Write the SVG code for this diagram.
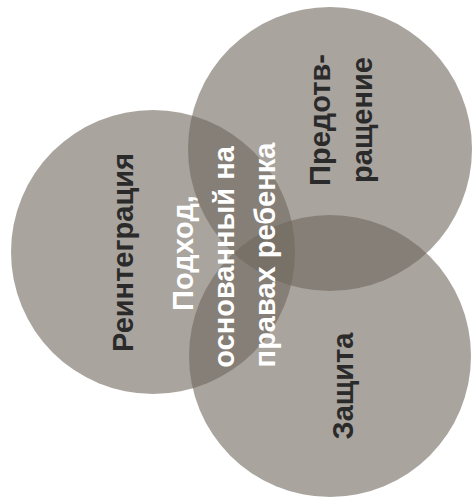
<svg xmlns="http://www.w3.org/2000/svg" width="473" height="504" viewBox="0 0 473 504">
  <style>
    .circ { fill: rgb(112,104,94); fill-opacity: 0.6; }
    .lbl { font-family: "Liberation Sans", Arial, sans-serif; font-weight: bold; font-size: 29px; text-anchor: middle; fill: #2a2a2a; }
    .ctr { fill: #ffffff; }
  </style>
  <rect width="473" height="504" fill="#ffffff"/>
  <g id="reintegration">
    <circle class="circ" cx="153" cy="252" r="142"/>
    <text class="lbl" transform="translate(133,252.5) rotate(-90)">Реинтеграция</text>
  </g>
  <g id="prevention">
    <circle class="circ" cx="330" cy="149" r="142"/>
    <text class="lbl" transform="translate(330,120) rotate(-90)">Предотв-</text>
    <text class="lbl" transform="translate(372,120) rotate(-90)">ращение</text>
  </g>
  <g id="protection">
    <circle class="circ" cx="330" cy="356" r="141"/>
    <text class="lbl" transform="translate(353,386) rotate(-90)">Защита</text>
  </g>
  <g id="center">
    <text class="lbl ctr" transform="translate(193,253) rotate(-90)">Подход,</text>
    <text class="lbl ctr" transform="translate(234,257) rotate(-90)">основанный на</text>
    <text class="lbl ctr" transform="translate(275,255) rotate(-90)">правах ребенка</text>
  </g>
</svg>
